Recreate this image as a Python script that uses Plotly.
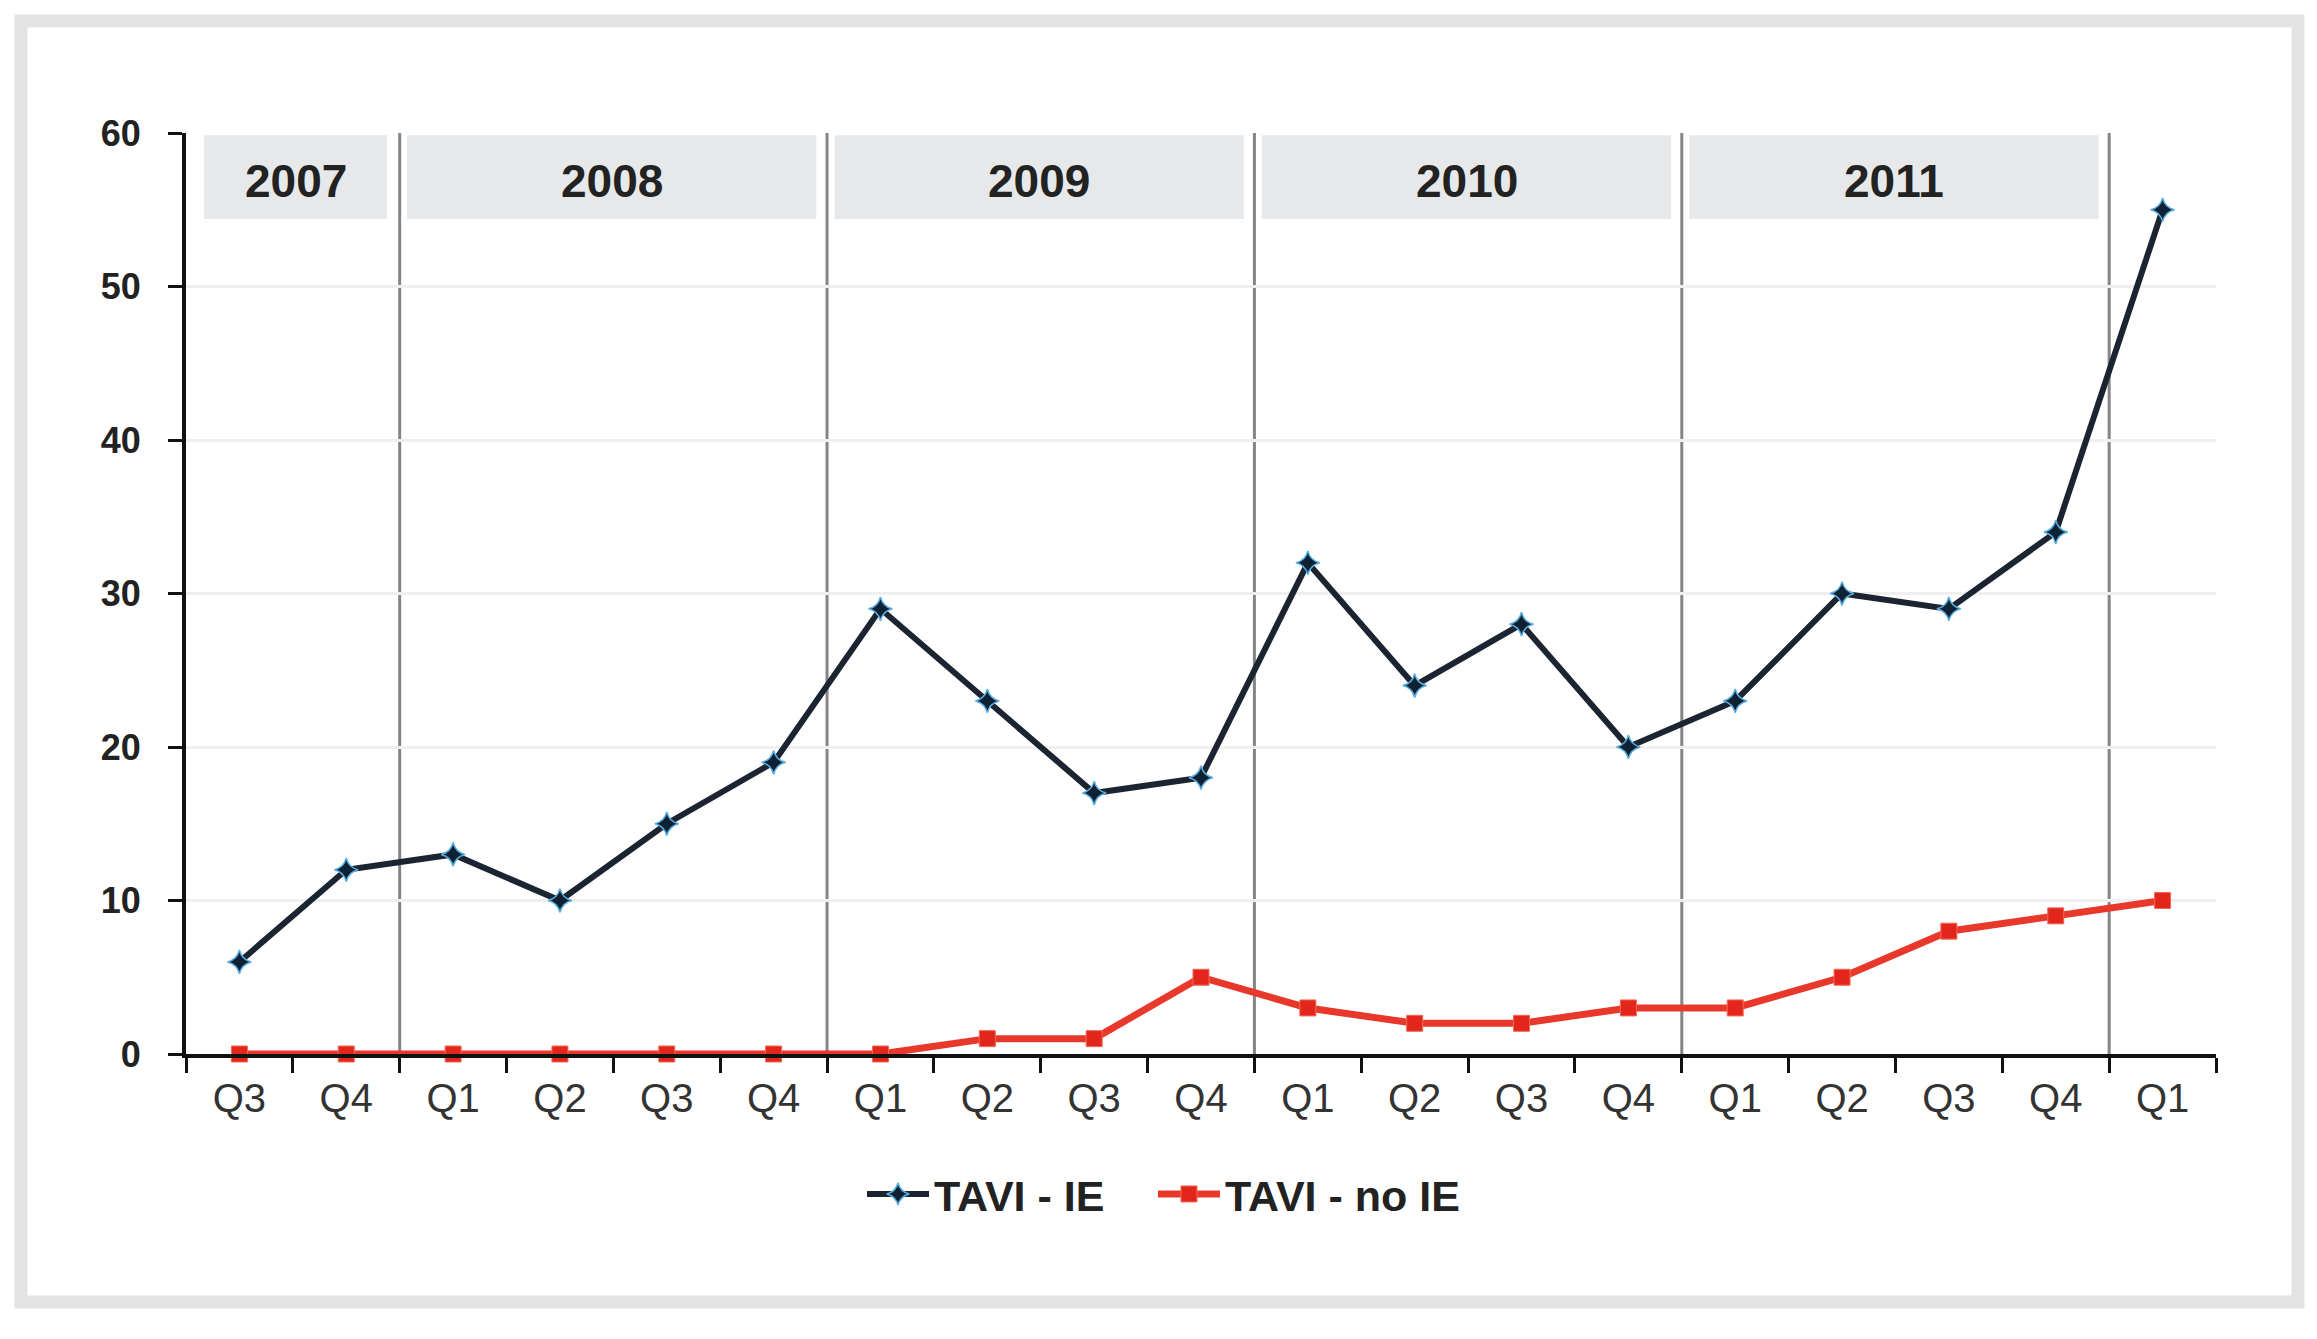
import plotly.graph_objects as go

years = ["2007", "2007", "2008", "2008", "2008", "2008", "2009", "2009", "2009", "2009",
         "2010", "2010", "2010", "2010", "2011", "2011", "2011", "2011", "2012"]
quarters = ["Q3", "Q4", "Q1", "Q2", "Q3", "Q4", "Q1", "Q2", "Q3", "Q4",
            "Q1", "Q2", "Q3", "Q4", "Q1", "Q2", "Q3", "Q4", "Q1"]
tavi_ie = [6, 12, 13, 10, 15, 19, 29, 23, 17, 18, 32, 24, 28, 20, 23, 30, 29, 34, 55]
tavi_no_ie = [0, 0, 0, 0, 0, 0, 0, 1, 1, 5, 3, 2, 2, 3, 3, 5, 8, 9, 10]
year_labels = ["2007", "2008", "2009", "2010", "2011"]
y_ticks = [0, 10, 20, 30, 40, 50, 60]

cats = [f"{y}-{q}" for y, q in zip(years, quarters)]

W, H = 2317, 1339
L, R, T, B = 186, 101, 133, 285
FONT = "Liberation Sans"

fig = go.Figure()
fig.add_trace(go.Scatter(
    x=cats, y=tavi_ie, name="TAVI - IE", mode="lines+markers",
    line=dict(color="#1b2532", width=6),
    marker=dict(symbol="star-diamond", size=17, color="#0f2233",
                line=dict(color="#5aaee0", width=1.5)),
    cliponaxis=False, legend="legend",
))
fig.add_trace(go.Scatter(
    x=cats, y=tavi_no_ie, name="TAVI - no IE", mode="lines+markers",
    line=dict(color="#e8382c", width=7),
    marker=dict(symbol="square", size=16, color="#e3261c",
                line=dict(color="#f06a55", width=1)),
    cliponaxis=False, legend="legend2",
))

shapes = []
# year separators and header boxes, derived from category indices
sep_positions = [i - 0.5 for i in range(1, len(years)) if years[i] != years[i - 1]]
bounds = [-0.5] + sep_positions + [len(years) - 0.5]
for s in sep_positions:
    shapes.append(dict(type="line", xref="x", yref="y", x0=s, x1=s, y0=0, y1=60,
                       line=dict(color="#858585", width=3), layer="below"))
annotations = []
for k, lab in enumerate(year_labels):
    left = bounds[k] + (0.17 if k == 0 else 0.07)
    right = bounds[k + 1] - (0.12 if k == 0 else 0.1)
    shapes.append(dict(type="rect", xref="x", yref="y", x0=left, x1=right,
                       y0=54.4, y1=59.85, fillcolor="#e7e8e9", line=dict(width=0),
                       layer="below"))
    annotations.append(dict(x=(left + right) / 2, y=56.9, xref="x", yref="y",
                            text=lab, showarrow=False,
                            font=dict(family=FONT, size=46, color="#222222", weight="bold")))

# outer light-grey frame
pw, ph = W - L - R, H - T - B
def px(xp):
    return (xp - L) / pw
def py(yp):
    return 1 - (yp - T) / ph
shapes.append(dict(type="rect", xref="paper", yref="paper",
                   x0=px(21), x1=px(2298), y0=py(21), y1=py(1302),
                   line=dict(color="#e3e3e3", width=13), fillcolor="rgba(0,0,0,0)",
                   layer="below"))

legend_common = dict(orientation="h", yanchor="middle", xanchor="left",
                     font=dict(family=FONT, size=43, color="#222222", weight="bold"),
                     itemwidth=62, bgcolor="rgba(0,0,0,0)")

fig.update_layout(
    width=W, height=H,
    margin=dict(l=L, r=R, t=T, b=B),
    paper_bgcolor="white", plot_bgcolor="white",
    shapes=shapes, annotations=annotations,
    showlegend=True,
    legend=dict(x=px(862), y=py(1194), **legend_common),
    legend2=dict(x=px(1153), y=py(1194), **legend_common),
    font=dict(family=FONT, color="#222222"),
)
fig.update_xaxes(
    type="category", range=[-0.5, len(cats) - 0.5],
    tickmode="array", tickvals=cats, ticktext=quarters,
    tickson="boundaries", ticks="outside", ticklen=15, tickwidth=3, tickcolor="#111111",
    showline=True, linecolor="#111111", linewidth=4,
    showgrid=False, zeroline=False,
    tickfont=dict(family=FONT, size=40, color="#333333"),
    ticklabelstandoff=6,
)
fig.update_yaxes(
    range=[0, 60], tickmode="array", tickvals=y_ticks,
    ticks="outside", ticklen=14, tickwidth=3, tickcolor="#111111",
    showline=True, linecolor="#111111", linewidth=4,
    showgrid=True, gridcolor="#efefef", gridwidth=3, zeroline=False,
    tickfont=dict(family=FONT, size=36, color="#222222", weight="bold"),
    ticklabelstandoff=20,
)

fig.write_html("out.html", config={"displayModeBar": False},
               post_script="document.body.style.margin='0';")
